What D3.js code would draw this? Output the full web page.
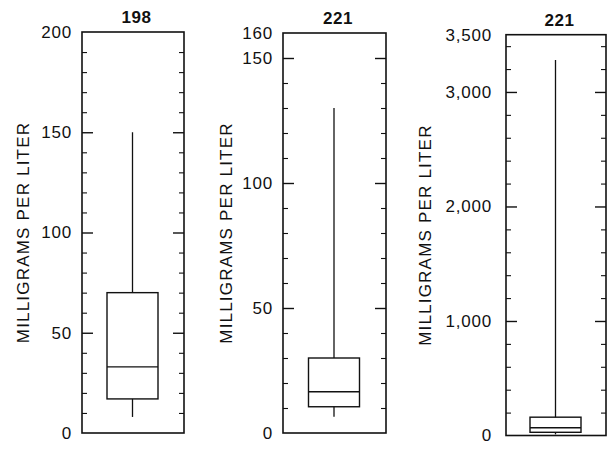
<!DOCTYPE html>
<html>
<head>
<meta charset="utf-8">
<script src="https://cdn.jsdelivr.net/npm/d3@7"></script>
<style>
  html, body { margin: 0; padding: 0; background: #fff; }
  svg { display: block; }
  text { font-family: "Liberation Sans", Arial, Helvetica, sans-serif; fill: #111; }
</style>
</head>
<body>
<svg id="chart" width="611" height="451"></svg>
<script>
// ---- data ----
const counts  = [198, 221, 221];
const mins    = [8, 6.5, 10];
const q1s     = [17, 10.5, 28];
const medians = [33, 16.5, 68];
const q3s     = [70, 30, 160];
const maxs    = [150, 130, 3280];
const yMaxes  = [200, 160, 3500];
const labelTicks = [[0, 50, 100, 150, 200], [0, 50, 100, 150, 160], [0, 1000, 2000, 3000, 3500]];
const majorTicks = [[50, 100, 150], [50, 100, 150], [1000, 2000, 3000]];
const minorSteps = [10, 10, 200];
const axisTitle = "MILLIGRAMS PER LITER";

// ---- layout ----
const frames = [
  {x0: 82,  x1: 184, yTop: 32,   yBot: 433},
  {x0: 283, x1: 386, yTop: 33,   yBot: 433},
  {x0: 506, x1: 606, yTop: 34.7, yBot: 435.5}
];
const titleX = [22.5, 225.5, 425];
const labelPad = [10, 10, 14];

const svg = d3.select("#chart");
const ink = "#111";
const fmt = [d3.format("d"), d3.format("d"), d3.format(",")];

frames.forEach((f, i) => {
  const y = d3.scaleLinear().domain([0, yMaxes[i]]).range([f.yBot, f.yTop]);
  const x = d3.scaleBand().domain([counts[i] + "_" + i]).range([f.x0, f.x1]).paddingInner(0).paddingOuter(0);
  const cx = x(x.domain()[0]) + x.bandwidth() / 2 - 0.5;
  const boxW = 51;

  const g = svg.append("g");

  const minor = d3.range(minorSteps[i], yMaxes[i], minorSteps[i])
    .filter(v => !majorTicks[i].includes(v));

  const styleAxis = sel => {
    sel.select(".domain").remove();
    sel.selectAll(".tick line").attr("stroke", ink).attr("stroke-width", 1.1);
  };

  // minor ticks left/right (inward)
  g.append("g").attr("transform", `translate(${f.x0},0)`)
    .call(d3.axisLeft(y).tickValues(minor).tickSizeInner(-5).tickSizeOuter(0).tickFormat(""))
    .call(styleAxis);
  g.append("g").attr("transform", `translate(${f.x1},0)`)
    .call(d3.axisRight(y).tickValues(minor).tickSizeInner(-5).tickSizeOuter(0).tickFormat(""))
    .call(styleAxis);
  // major ticks
  g.append("g").attr("transform", `translate(${f.x0},0)`)
    .call(d3.axisLeft(y).tickValues(majorTicks[i]).tickSizeInner(-11).tickSizeOuter(0).tickFormat(""))
    .call(styleAxis).selectAll(".tick line").attr("stroke-width", 1.4);
  g.append("g").attr("transform", `translate(${f.x1},0)`)
    .call(d3.axisRight(y).tickValues(majorTicks[i]).tickSizeInner(-11).tickSizeOuter(0).tickFormat(""))
    .call(styleAxis).selectAll(".tick line").attr("stroke-width", 1.4);
  // labels
  const lab = g.append("g").attr("transform", `translate(${f.x0},0)`)
    .call(d3.axisLeft(y).tickValues(labelTicks[i]).tickSize(0).tickPadding(labelPad[i]).tickFormat(fmt[i]));
  lab.select(".domain").remove();
  lab.selectAll("text")
    .attr("font-size", 17)
    .attr("letter-spacing", "0.8px")
    .attr("fill", ink)
    .style("font-family", '"Liberation Sans", Arial, sans-serif');

  // frame
  g.append("rect")
    .attr("x", f.x0).attr("y", f.yTop)
    .attr("width", f.x1 - f.x0).attr("height", f.yBot - f.yTop)
    .attr("fill", "none").attr("stroke", ink).attr("stroke-width", 1.6);

  // whiskers
  g.append("line")
    .attr("x1", cx).attr("x2", cx)
    .attr("y1", y(maxs[i])).attr("y2", y(q3s[i]))
    .attr("stroke", ink).attr("stroke-width", 1.3);
  g.append("line")
    .attr("x1", cx).attr("x2", cx)
    .attr("y1", y(q1s[i])).attr("y2", y(mins[i]))
    .attr("stroke", ink).attr("stroke-width", 1.3);
  // box
  g.append("rect")
    .attr("x", cx - boxW / 2).attr("y", y(q3s[i]))
    .attr("width", boxW).attr("height", y(q1s[i]) - y(q3s[i]))
    .attr("fill", "none").attr("stroke", ink).attr("stroke-width", 1.4);
  // median
  g.append("line")
    .attr("x1", cx - boxW / 2).attr("x2", cx + boxW / 2)
    .attr("y1", y(medians[i])).attr("y2", y(medians[i]))
    .attr("stroke", ink).attr("stroke-width", 1.4);

  // count title
  g.append("text")
    .attr("x", cx + 4).attr("y", f.yTop - 9)
    .attr("text-anchor", "middle")
    .attr("font-size", 17).attr("font-weight", "bold")
    .attr("letter-spacing", "0.6px")
    .text(counts[i]);

  // axis title
  const ty = (f.yTop + f.yBot) / 2;
  g.append("text")
    .attr("transform", `translate(${titleX[i] + 6},${ty}) rotate(-90)`)
    .attr("text-anchor", "middle")
    .attr("font-size", 17)
    .attr("letter-spacing", "1.2px")
    .text(axisTitle);
});
</script>
</body>
</html>
